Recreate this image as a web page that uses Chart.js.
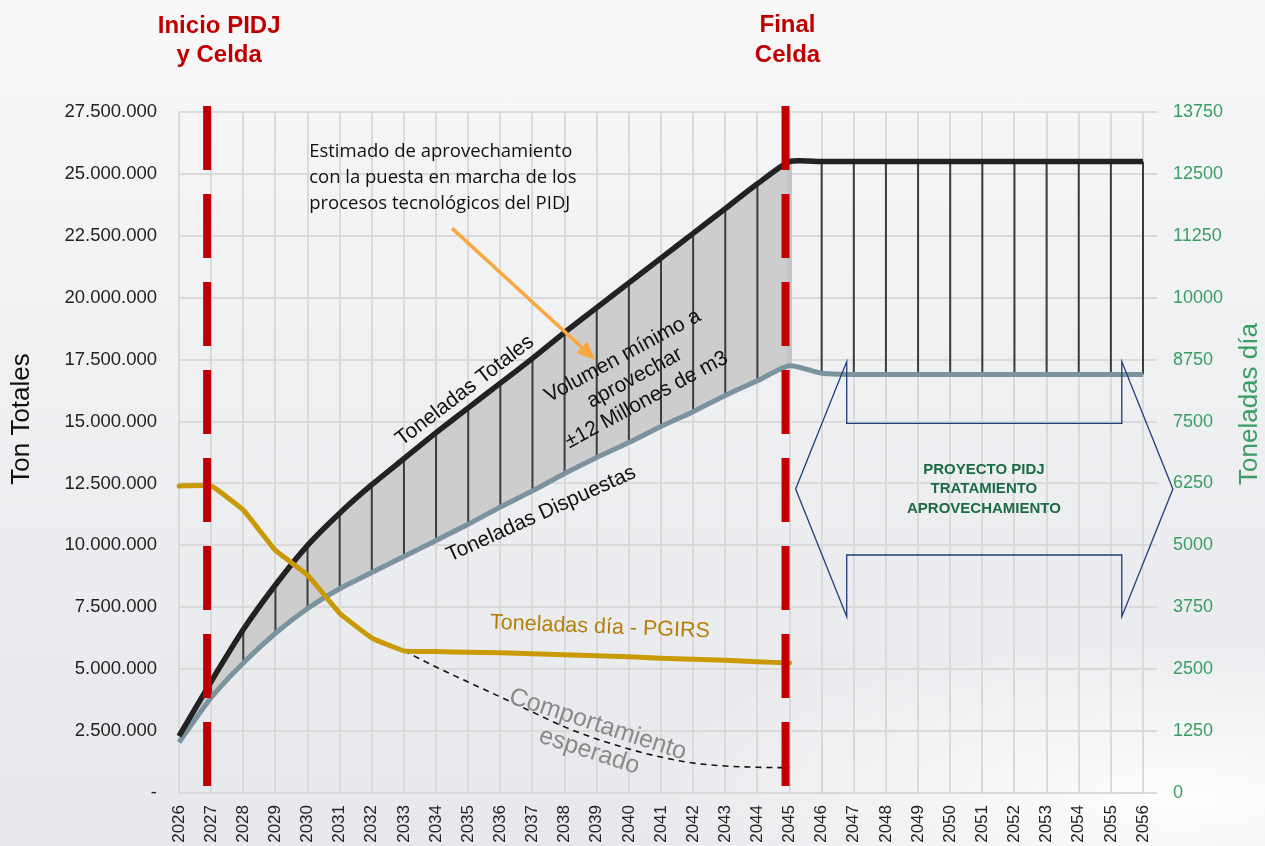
<!DOCTYPE html>
<html lang="es">
<head>
<meta charset="UTF-8">
<title>Toneladas Totales y Dispuestas - PIDJ</title>
<script src="https://cdn.jsdelivr.net/npm/chart.js@4.4.1/dist/chart.umd.min.js"></script>
<style>
    html, body { margin: 0; padding: 0; }
    body {
        width: 1265px; height: 846px; overflow: hidden;
        background:
            radial-gradient(ellipse 760px 230px at 1180px 800px, rgba(255,255,255,0.95), rgba(255,255,255,0) 75%),
            linear-gradient(180deg, #f8f8f9 0%, #eff0f2 45%, #e6e8eb 100%);
    }
    #chart { position: relative; width: 1265px; height: 846px; }
</style>
</head>
<body>
<div id="chart">
    <canvas id="myChart" width="1265" height="846"></canvas>
</div>
<script>
// Años (eje X)
const anios = ['2026','2027','2028','2029','2030','2031','2032','2033','2034','2035','2036',
               '2037','2038','2039','2040','2041','2042','2043','2044','2045','2046','2047',
               '2048','2049','2050','2051','2052','2053','2054','2055','2056'];

// Toneladas acumuladas (eje izquierdo)
const toneladasTotales = [2300000, 4500000, 6600000, 8400000, 10000000, 11300000, 12450000, 13500000,
                          14550000, 15550000, 16550000, 17550000, 18600000, 19600000, 20600000, 21600000,
                          22600000, 23600000, 24600000, 25500000,
                          25500000, 25500000, 25500000, 25500000, 25500000, 25500000, 25500000, 25500000,
                          25500000, 25500000, 25500000];
const toneladasDispuestas = [2050000, 3850000, 5250000, 6450000, 7450000, 8250000, 8900000, 9550000,
                             10200000, 10850000, 11550000, 12200000, 12900000, 13550000, 14150000, 14800000,
                             15400000, 16050000, 16650000, 17250000,
                             16950000, 16900000, 16900000, 16900000, 16900000, 16900000, 16900000, 16900000,
                             16900000, 16900000, 16900000];

// Toneladas por día (eje derecho)
const toneladasDia = [6200, 6200, 5715, 4900, 4400, 3630, 3130, 2870, 2855, 2840, 2830, 2810, 2790, 2770,
                      2750, 2720, 2700, 2680, 2650, 2625,
                      null, null, null, null, null, null, null, null, null, null, null];
const comportamientoEsperado = [null, null, null, null, null, null, null,
                                2870, 2545, 2240, 1940, 1635, 1335, 1090, 890, 725, 605, 545, 520, 510,
                                null, null, null, null, null, null, null, null, null, null, null];

// Ejes
const ejeIzqMax = 27500000, ejeIzqPaso = 2500000;
const ejeDerMax = 13750, ejeDerPaso = 1250;

const inicioPidj = anios.indexOf('2027');
const finCelda = anios.indexOf('2045');

// 2.500.000 y "-" para el cero
function miles(v) {
    if (v === 0) return '-';
    return String(v).replace(/\B(?=(\d{3})+(?!\d))/g, '.');
}

const ARIAL = "'Liberation Sans', Arial, sans-serif";

// punto en coordenadas de los ejes (indice de año, toneladas)
function P(chart, xi, yv) {
    return { x: chart.scales.x.getPixelForValue(xi), y: chart.scales.y.getPixelForValue(yv) };
}

function textoRotado(c, lineas, p, grados, sep) {
    c.save();
    c.translate(p.x, p.y);
    c.rotate(grados * Math.PI / 180);
    const n = lineas.length;
    lineas.forEach((t, i) => c.fillText(t, 0, (i - (n - 1) / 2) * sep));
    c.restore();
}

const anotaciones = {
    id: 'anotaciones',
    // rayas verticales entre totales y dispuestas
    beforeDatasetDraw(chart, args) {
        if (args.index !== 3) return;
        const c = chart.ctx;
        const arriba = chart.getDatasetMeta(2).data;
        const abajo = chart.getDatasetMeta(3).data;
        c.save();
        for (let i = inicioPidj; i < anios.length; i++) {
            c.strokeStyle = i === finCelda ? '#c6c6c6' : '#3c3c3c';
            c.lineWidth = i === finCelda ? 5 : 2;
            c.beginPath();
            c.moveTo(arriba[i].x, arriba[i].y);
            c.lineTo(abajo[i].x, abajo[i].y);
            c.stroke();
        }
        c.restore();
    },
    afterDatasetsDraw(chart) {
        const c = chart.ctx;
        const area = chart.chartArea;
        c.save();

        // lineas rojas discontinuas
        const rojas = [inicioPidj, finCelda].map(i => chart.scales.x.getPixelForValue(i) - 4);
        c.strokeStyle = '#c00000';
        c.lineWidth = 8;
        c.setLineDash([64, 24]);
        rojas.forEach(x => {
            c.beginPath();
            c.moveTo(x, area.top - 6);
            c.lineTo(x, area.bottom - 7);
            c.stroke();
        });
        c.setLineDash([]);

        // titulos rojos
        c.fillStyle = '#c00000';
        c.font = 'bold 24px ' + ARIAL;
        c.textAlign = 'center';
        c.textBaseline = 'alphabetic';
        c.fillText('Inicio PIDJ', rojas[0] + 12, 33);
        c.fillText('y Celda', rojas[0] + 12, 62);
        c.fillText('Final', rojas[1] + 2, 32);
        c.fillText('Celda', rojas[1] + 2, 62);

        // titulos de ejes
        c.textBaseline = 'middle';
        c.font = '26px ' + ARIAL;
        c.fillStyle = '#111';
        textoRotado(c, ['Ton Totales'], { x: 22, y: 419 }, -90, 0);
        c.fillStyle = '#3a9e64';
        textoRotado(c, ['Toneladas día'], { x: 1250, y: 404 }, -90, 0);

        // texto explicativo y flecha naranja
        c.fillStyle = '#111';
        c.textAlign = 'left';
        c.font = "18.5px 'Open Sans', sans-serif";
        const est = P(chart, 4.05, 25880000);
        ['Estimado de aprovechamiento', 'con la puesta en marcha de los', 'procesos tecnológicos del PIDJ']
            .forEach((t, i) => c.fillText(t, est.x, est.y + i * 26));

        const a0 = P(chart, 8.5, 22800000), a1 = P(chart, 12.95, 17500000);
        const ang = Math.atan2(a1.y - a0.y, a1.x - a0.x);
        c.strokeStyle = '#f7a840';
        c.fillStyle = '#f7a840';
        c.lineWidth = 3.5;
        c.beginPath();
        c.moveTo(a0.x, a0.y);
        c.lineTo(a1.x - 12 * Math.cos(ang), a1.y - 12 * Math.sin(ang));
        c.stroke();
        c.beginPath();
        c.moveTo(a1.x, a1.y);
        c.lineTo(a1.x - 18 * Math.cos(ang) + 8 * Math.sin(ang), a1.y - 18 * Math.sin(ang) - 8 * Math.cos(ang));
        c.lineTo(a1.x - 18 * Math.cos(ang) - 8 * Math.sin(ang), a1.y - 18 * Math.sin(ang) + 8 * Math.cos(ang));
        c.closePath();
        c.fill();

        // etiquetas de las series
        c.textAlign = 'center';
        c.fillStyle = '#111';
        c.font = '21px ' + ARIAL;
        textoRotado(c, ['Toneladas Totales'], P(chart, 8.9, 16250000), -37.5, 0);
        textoRotado(c, ['Toneladas Dispuestas'], P(chart, 11.27, 11270000), -24.4, 0);
        textoRotado(c, ['Volumen mínimo a', 'aprovechar', '±12 Millones de m3'], P(chart, 14.18, 16760000), -28.5, 25);

        c.fillStyle = '#b5800a';
        c.font = '21.5px ' + ARIAL;
        textoRotado(c, ['Toneladas día - PGIRS'], P(chart, 13.1, 6700000), 2.3, 0);

        c.fillStyle = '#8a8a8a';
        c.font = '25px ' + ARIAL;
        textoRotado(c, ['Comportamiento', 'esperado'], P(chart, 12.9, 2220000), 18, 28);

        // flecha doble azul del proyecto
        const xs = [19.19, 20.78, 29.34, 30.93];
        const ys = [17420000, 14930000, 12280000, 9610000, 7120000];
        const forma = [[0, 2], [1, 0], [1, 1], [2, 1], [2, 0], [3, 2], [2, 4], [2, 3], [1, 3], [1, 4]];
        c.strokeStyle = '#1f3c7a';
        c.lineWidth = 1.3;
        c.beginPath();
        forma.forEach(([i, j], k) => {
            const p = P(chart, xs[i], ys[j]);
            if (k === 0) c.moveTo(p.x, p.y); else c.lineTo(p.x, p.y);
        });
        c.closePath();
        c.stroke();

        c.fillStyle = '#1d6a47';
        c.font = 'bold 15px ' + ARIAL;
        textoRotado(c, ['PROYECTO PIDJ', 'TRATAMIENTO', 'APROVECHAMIENTO'], P(chart, 25.05, 12280000), 0, 19.5);

        c.restore();
    }
};

const ctx = document.getElementById('myChart').getContext('2d');

const data = {
    labels: anios,
    datasets: [
        { label: 'Toneladas día - PGIRS', data: toneladasDia, yAxisID: 'y1',
          borderColor: '#c99a06', borderWidth: 5, pointRadius: 0, tension: 0.1, borderCapStyle: 'round' },
        { label: 'Comportamiento esperado', data: comportamientoEsperado, yAxisID: 'y1',
          borderColor: '#111', borderWidth: 1.6, borderDash: [6, 5], pointRadius: 0, cubicInterpolationMode: 'monotone' },
        { label: 'Toneladas Totales', data: toneladasTotales, yAxisID: 'y',
          borderColor: '#222', borderWidth: 5.5, pointRadius: 0, tension: 0.2 },
        { label: 'Toneladas Dispuestas', data: toneladasDispuestas, yAxisID: 'y',
          borderColor: '#7b939f', borderWidth: 5, pointRadius: 0, tension: 0.2 },
        // area entre totales y dispuestas hasta el final de la celda
        { label: 'Volumen', data: toneladasTotales.map((v, i) => i <= finCelda ? v : null), yAxisID: 'y',
          borderWidth: 0, pointRadius: 0, backgroundColor: '#cdcdcd', fill: 3, tension: 0.2 }
    ]
};

const options = {
    responsive: false,
    animation: false,
    layout: { padding: { top: 112, left: 0, right: 0, bottom: 0 } },
    plugins: { legend: { display: false }, tooltip: { enabled: false } },
    scales: {
        x: {
            grid: { color: '#dadada', lineWidth: 2, drawTicks: false },
            border: { display: false },
            ticks: { color: '#222', font: { family: ARIAL, size: 17 }, minRotation: 90, maxRotation: 90,
                     autoSkip: false, padding: 12 },
            afterFit(s) { s.height = 53; }
        },
        y: {
            position: 'left', min: 0, max: ejeIzqMax,
            grid: { color: '#dadada', lineWidth: 2, drawTicks: false },
            border: { display: false },
            ticks: { stepSize: ejeIzqPaso, callback: miles, color: '#222', font: { family: ARIAL, size: 18.5 }, padding: 22 },
            afterFit(s) { s.width = 179; }
        },
        y1: {
            position: 'right', min: 0, max: ejeDerMax,
            grid: { drawOnChartArea: false, drawTicks: true, tickLength: 14, color: '#dadada', lineWidth: 2 },
            border: { display: false },
            ticks: { stepSize: ejeDerPaso, callback: v => String(v), color: '#3a9e64',
                     font: { family: ARIAL, size: 18 }, padding: 16 },
            afterFit(s) { s.width = 122; }
        }
    }
};

const myChart = new Chart(ctx, { type: 'line', data: data, options: options, plugins: [anotaciones] });
</script>
</body>
</html>
